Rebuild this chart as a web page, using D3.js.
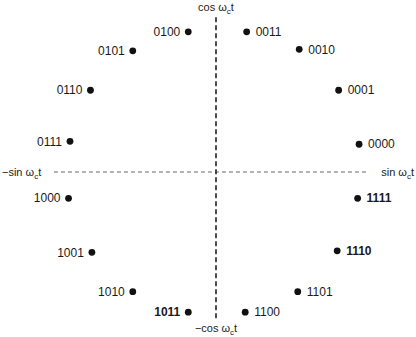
<!DOCTYPE html>
<html lang="en">
<head>
    <meta charset="UTF-8">
    <title>16-PSK Constellation</title>
    <style>
        body { margin: 0; background: #fff; }
        svg { width: 416px; height: 337px; font-family: "Liberation Sans", Arial, sans-serif; }
        .pt-label { font-size: 12px; fill: #1a1a1a; }
        .axis-name { font-size: 11px; fill: #222; }
    </style>
    <script src="https://d3js.org/d3.v7.min.js"></script>
</head>
<body>
    <svg id="chart"></svg>
    <script>
        // symbol codes and in-phase / quadrature positions
        const codes = ["0000", "0001", "0010", "0011", "0100", "0101", "0110", "0111",
                       "1000", "1001", "1010", "1011", "1100", "1101", "1110", "1111"];
        const iVals = [0.98, 0.84, 0.57, 0.21, -0.19, -0.57, -0.86, -1.00,
                       -1.01, -0.85, -0.57, -0.19, 0.20, 0.56, 0.83, 0.97];
        const qVals = [0.19, 0.56, 0.84, 0.96, 0.96, 0.83, 0.56, 0.21,
                       -0.18, -0.55, -0.82, -0.96, -0.96, -0.82, -0.54, -0.18];
        const boldCodes = ["1011", "1110", "1111"];

        const data = codes.map((c, i) => ({ code: c, i: iVals[i], q: qVals[i] }));

        const svg = d3.select("#chart");
        const cx = 216, cy = 172, r = 146;

        const x = d3.scaleLinear().domain([-1, 1]).range([cx - r, cx + r]);
        const y = d3.scaleLinear().domain([-1, 1]).range([cy + r, cy - r]);

        // dashed axes
        svg.append("line")
            .attr("x1", x(-1.11)).attr("x2", x(1.03))
            .attr("y1", y(0)).attr("y2", y(0))
            .attr("stroke", "#666")
            .attr("stroke-width", 1)
            .attr("stroke-dasharray", "4,3");

        svg.append("line")
            .attr("x1", x(0)).attr("x2", x(0))
            .attr("y1", y(1.06)).attr("y2", y(-1.01))
            .attr("stroke", "#222")
            .attr("stroke-width", 1.6)
            .attr("stroke-dasharray", "5,3");

        // points
        svg.selectAll(".dot")
            .data(data)
            .enter().append("circle")
            .attr("class", "dot")
            .attr("cx", d => x(d.i))
            .attr("cy", d => y(d.q))
            .attr("r", 3.4)
            .attr("fill", "#111");

        svg.selectAll(".pt-label")
            .data(data)
            .enter().append("text")
            .attr("class", "pt-label")
            .attr("x", d => x(d.i) + (d.i > 0 ? 9 : -8))
            .attr("y", d => y(d.q))
            .attr("dy", "0.35em")
            .attr("text-anchor", d => d.i > 0 ? "start" : "end")
            .style("font-weight", d => boldCodes.includes(d.code) ? "bold" : "normal")
            .text(d => d.code);

        // axis names with subscript c
        function axisName(prefix, tx, ty, anchor) {
            const t = svg.append("text")
                .attr("class", "axis-name")
                .attr("x", tx).attr("y", ty)
                .attr("text-anchor", anchor);
            t.append("tspan").text(prefix + " \u03c9");
            t.append("tspan").attr("dy", 3).style("font-size", "8px").text("c");
            t.append("tspan").attr("dy", -3).text("t");
        }
        axisName("cos", x(0), 11, "middle");
        axisName("\u2212cos", x(0), 332, "middle");
        axisName("\u2212sin", 2, y(0) + 4, "start");
        axisName("sin", 414, y(0) + 4, "end");
    </script>
</body>
</html>
